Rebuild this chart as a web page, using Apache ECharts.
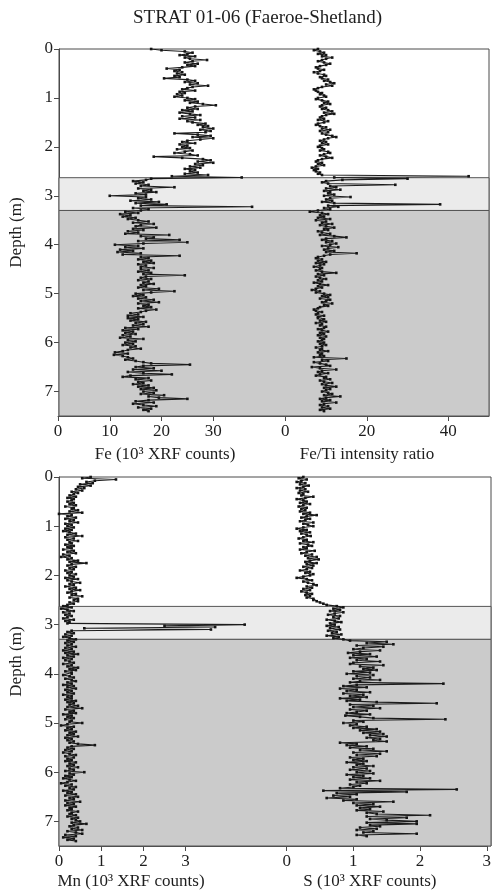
<!DOCTYPE html>
<html><head><meta charset="utf-8">
<script src="https://cdn.jsdelivr.net/npm/echarts@6.0.0/dist/echarts.min.js"></script>
<style>html,body{margin:0;padding:0;background:#fff}#c{width:494px;height:892px}</style>
</head><body><div id="c"></div>
<script>
// depth samples (m)
const depth = [
0,0.025,0.05,0.075,0.1,0.125,0.15,0.175,0.2,0.225,0.25,0.275,0.3,0.325,0.35,0.375,0.4,0.425,0.45,0.475,
0.5,0.525,0.55,0.575,0.6,0.625,0.65,0.675,0.7,0.725,0.75,0.775,0.8,0.825,0.85,0.875,0.9,0.925,0.95,0.975,
1,1.025,1.05,1.075,1.1,1.125,1.15,1.175,1.2,1.225,1.25,1.275,1.3,1.325,1.35,1.375,1.4,1.425,1.45,1.475,
1.5,1.525,1.55,1.575,1.6,1.625,1.65,1.675,1.7,1.725,1.75,1.775,1.8,1.825,1.85,1.875,1.9,1.925,1.95,1.975,
2,2.025,2.05,2.075,2.1,2.125,2.15,2.175,2.2,2.225,2.25,2.275,2.3,2.325,2.35,2.375,2.4,2.425,2.45,2.475,
2.5,2.525,2.55,2.575,2.6,2.625,2.65,2.675,2.7,2.725,2.75,2.775,2.8,2.825,2.85,2.875,2.9,2.925,2.95,2.975,
3,3.025,3.05,3.075,3.1,3.125,3.15,3.175,3.2,3.225,3.25,3.275,3.3,3.325,3.35,3.375,3.4,3.425,3.45,3.475,
3.5,3.525,3.55,3.575,3.6,3.625,3.65,3.675,3.7,3.725,3.75,3.775,3.8,3.825,3.85,3.875,3.9,3.925,3.95,3.975,
4,4.025,4.05,4.075,4.1,4.125,4.15,4.175,4.2,4.225,4.25,4.275,4.3,4.325,4.35,4.375,4.4,4.425,4.45,4.475,
4.5,4.525,4.55,4.575,4.6,4.625,4.65,4.675,4.7,4.725,4.75,4.775,4.8,4.825,4.85,4.875,4.9,4.925,4.95,4.975,
5,5.025,5.05,5.075,5.1,5.125,5.15,5.175,5.2,5.225,5.25,5.275,5.3,5.325,5.35,5.375,5.4,5.425,5.45,5.475,
5.5,5.525,5.55,5.575,5.6,5.625,5.65,5.675,5.7,5.725,5.75,5.775,5.8,5.825,5.85,5.875,5.9,5.925,5.95,5.975,
6,6.025,6.05,6.075,6.1,6.125,6.15,6.175,6.2,6.225,6.25,6.275,6.3,6.325,6.35,6.375,6.4,6.425,6.45,6.475,
6.5,6.525,6.55,6.575,6.6,6.625,6.65,6.675,6.7,6.725,6.75,6.775,6.8,6.825,6.85,6.875,6.9,6.925,6.95,6.975,
7,7.025,7.05,7.075,7.1,7.125,7.15,7.175,7.2,7.225,7.25,7.275,7.3,7.325,7.35,7.375,7.4];
// Fe (10^3 XRF counts)
const fe = [
18.0,20.0,24.5,26.0,25.0,23.5,26.5,24.5,25.5,28.8,26.0,24.5,27.0,25.0,26.5,24.0,21.0,23.5,22.5,24.0,
23.0,24.5,22.5,23.5,20.5,25.0,26.5,24.5,27.0,25.5,29.0,26.0,25.0,24.0,26.5,23.5,24.5,23.0,24.0,22.5,
25.0,26.5,24.5,27.0,25.5,28.0,30.5,26.5,25.0,27.0,24.0,26.0,23.5,25.5,27.5,24.0,26.5,23.5,27.5,25.0,
26.0,28.5,27.0,29.0,28.0,30.0,27.5,29.5,28.5,22.5,27.0,29.5,26.0,30.0,27.5,25.0,24.0,26.5,23.5,25.0,
24.0,25.5,23.0,26.0,24.5,22.5,25.5,27.0,18.5,24.0,28.0,29.5,27.0,30.0,26.5,28.0,25.5,27.5,24.5,26.5,
25.5,27.0,24.5,29.0,22.0,35.5,18.0,17.0,14.5,16.5,15.0,17.5,16.0,22.5,15.5,18.0,16.5,19.0,15.0,17.0,
10.0,17.0,15.5,18.0,14.0,19.5,15.0,21.0,16.0,37.5,14.5,17.5,16.0,13.0,15.5,12.0,14.0,12.5,15.0,13.5,
15.5,17.5,14.5,18.5,16.0,15.0,19.0,14.5,16.5,13.5,15.5,13.0,21.5,16.0,18.5,17.0,23.5,15.5,25.0,16.5,
11.0,15.5,13.0,16.5,12.0,14.5,11.5,16.0,12.5,23.5,16.0,17.5,15.5,18.0,16.5,18.5,15.5,17.0,16.0,18.5,
16.0,17.5,15.5,18.0,16.5,24.5,17.0,16.0,18.0,15.5,17.5,16.5,18.5,16.0,17.0,15.5,19.5,16.5,22.5,18.0,
15.0,16.5,14.5,17.0,15.5,18.5,16.0,19.5,15.5,17.5,16.5,18.0,15.5,19.0,17.0,16.0,14.0,15.5,13.5,16.5,
13.5,15.5,14.0,17.0,15.0,16.5,14.5,17.5,13.0,15.5,12.5,14.5,13.0,15.0,12.5,14.0,12.0,16.5,13.5,15.0,
13.0,14.5,12.5,15.0,14.0,16.0,13.5,12.5,11.0,13.5,10.8,12.5,13.5,14.5,13.0,15.0,16.5,18.0,25.5,16.5,
15.0,18.5,14.5,20.0,13.5,16.5,22.0,14.0,12.5,17.5,15.0,18.0,15.5,16.5,14.5,17.5,15.5,18.5,16.0,19.0,
16.5,18.5,16.0,20.5,17.5,19.5,25.0,17.5,15.0,18.5,14.5,16.5,19.0,15.5,18.0,16.5,17.5];
// Fe/Ti intensity ratio
const feTi = [
8.0,7.0,8.5,9.5,8.0,10.0,9.0,11.5,10.0,9.0,8.0,9.5,11.0,10.0,8.5,7.5,8.0,9.5,8.5,7.0,
8.0,9.5,10.0,8.5,9.0,10.5,9.5,11.0,12.0,10.0,11.5,9.0,8.0,7.0,7.5,8.0,9.0,8.5,9.5,10.0,
8.0,7.5,9.0,10.5,9.5,11.0,9.0,8.5,10.0,9.0,10.5,11.5,9.5,12.0,10.0,9.0,8.5,9.5,8.0,10.5,
9.5,8.0,7.5,8.5,10.0,9.0,11.0,8.5,10.5,9.0,10.0,11.5,12.5,10.5,9.5,8.5,10.0,9.0,10.5,8.5,
8.0,9.0,9.5,8.5,10.5,11.0,9.5,8.5,10.0,11.5,9.0,8.0,7.5,9.0,8.0,9.5,7.5,6.5,8.0,7.0,
7.5,8.5,8.0,9.0,45.0,12.0,30.0,14.0,10.0,9.0,10.5,27.0,11.0,12.5,10.0,13.5,9.5,11.0,10.5,12.0,
9.5,16.0,11.0,10.0,11.5,9.0,12.0,38.0,10.5,13.0,9.5,11.0,8.0,6.0,9.0,10.5,8.5,9.5,8.0,11.0,
7.5,10.0,9.0,11.5,8.5,10.0,12.0,9.5,10.5,8.0,9.0,11.0,8.5,12.0,15.0,10.0,9.0,11.5,10.0,12.5,
11.0,9.0,13.0,10.5,9.5,12.0,10.0,17.5,11.0,9.5,8.0,7.5,9.0,8.0,10.0,7.5,9.5,8.5,7.0,9.0,
8.5,7.5,9.0,12.5,8.0,9.5,7.5,8.5,10.0,8.0,9.0,7.0,8.5,10.5,8.0,9.0,7.5,6.5,8.5,7.5,
9.5,11.0,9.0,10.5,8.5,11.0,10.0,9.0,11.5,9.5,10.5,8.5,8.0,7.0,7.5,9.0,8.0,7.5,9.5,8.0,
8.0,9.5,8.5,10.0,7.5,9.0,8.5,10.0,9.5,8.0,9.0,10.5,8.5,9.5,8.0,10.0,8.5,9.5,9.0,8.0,
9.5,8.5,10.0,9.0,7.5,9.0,8.5,10.5,8.0,9.0,8.5,9.5,7.0,15.0,9.0,10.5,7.0,8.5,10.0,11.0,
6.5,8.5,12.5,9.0,8.0,10.5,8.5,7.5,10.0,9.5,11.0,8.5,9.5,11.5,9.0,10.0,12.5,9.5,11.0,10.0,
9.0,10.5,11.5,9.5,13.5,10.0,8.5,11.0,9.0,12.5,9.5,8.5,10.5,9.0,11.0,8.5,9.5];
// Mn (10^3 XRF counts)
const mn = [
0.75,0.55,1.35,0.85,0.65,0.80,0.50,0.75,0.45,0.60,0.40,0.55,0.30,0.45,0.35,0.25,0.40,0.20,0.35,0.30,
0.20,0.35,0.25,0.40,0.15,0.35,0.30,0.45,0.25,0.55,0.00,0.30,0.20,0.40,0.15,0.35,0.25,0.45,0.15,0.30,
0.20,0.35,0.15,0.30,0.10,0.25,0.40,0.20,0.55,0.15,0.35,0.20,0.45,0.25,0.30,0.15,0.35,0.20,0.30,0.10,
0.35,0.20,0.40,0.10,0.25,0.05,0.30,0.20,0.45,0.25,0.65,0.30,0.20,0.40,0.25,0.35,0.15,0.30,0.20,0.40,
0.25,0.35,0.15,0.45,0.20,0.30,0.50,0.25,0.35,0.15,0.40,0.25,0.50,0.30,0.20,0.40,0.30,0.55,0.25,0.45,
0.35,0.45,0.25,0.35,0.20,0.10,0.30,0.05,0.20,0.35,0.10,0.25,0.15,0.30,0.20,0.10,0.35,0.15,0.25,0.20,
4.40,2.50,3.70,0.60,3.60,0.30,0.20,0.35,0.15,0.30,0.10,0.25,0.40,0.20,0.35,0.15,0.30,0.20,0.40,0.15,
0.30,0.10,0.35,0.15,0.45,0.20,0.35,0.10,0.30,0.15,0.25,0.35,0.10,0.30,0.20,0.45,0.25,0.40,0.15,0.30,
0.30,0.10,0.25,0.35,0.15,0.30,0.40,0.20,0.30,0.10,0.35,0.20,0.40,0.15,0.30,0.20,0.35,0.10,0.30,0.20,
0.30,0.15,0.40,0.20,0.35,0.25,0.45,0.20,0.55,0.15,0.35,0.25,0.40,0.10,0.30,0.20,0.35,0.15,0.30,0.25,
0.55,0.20,0.05,0.35,0.20,0.30,0.15,0.40,0.25,0.35,0.20,0.45,0.15,0.30,0.20,0.35,0.25,0.45,0.85,0.30,
0.20,0.35,0.15,0.30,0.10,0.25,0.40,0.15,0.35,0.20,0.30,0.15,0.40,0.25,0.35,0.20,0.45,0.25,0.35,0.15,
0.60,0.25,0.35,0.15,0.30,0.10,0.25,0.40,0.20,0.05,0.30,0.15,0.40,0.25,0.35,0.10,0.30,0.20,0.40,0.15,
0.45,0.25,0.35,0.15,0.50,0.20,0.35,0.15,0.40,0.25,0.30,0.20,0.45,0.30,0.25,0.40,0.20,0.45,0.30,0.40,
0.50,0.30,0.65,0.35,0.25,0.45,0.30,0.55,0.20,0.40,0.55,0.15,0.40,0.10,0.35,0.20,0.40];
// S (10^3 XRF counts)
const sVal = [
0.25,0.18,0.30,0.22,0.15,0.28,0.20,0.33,0.25,0.15,0.28,0.20,0.32,0.18,0.25,0.22,0.40,0.28,0.15,0.25,
0.30,0.20,0.35,0.25,0.18,0.30,0.22,0.28,0.20,0.35,0.25,0.45,0.30,0.22,0.35,0.28,0.20,0.40,0.25,0.32,
0.40,0.25,0.15,0.30,0.20,0.35,0.22,0.30,0.36,0.25,0.18,0.30,0.25,0.40,0.20,0.32,0.38,0.25,0.30,0.20,
0.42,0.30,0.22,0.38,0.28,0.45,0.32,0.48,0.35,0.28,0.45,0.30,0.40,0.25,0.38,0.30,0.20,0.35,0.28,0.40,
0.35,0.25,0.15,0.30,0.38,0.25,0.32,0.40,0.45,0.30,0.38,0.25,0.35,0.22,0.30,0.38,0.28,0.35,0.30,0.40,
0.40,0.45,0.50,0.55,0.60,0.75,0.85,0.70,0.80,0.65,0.85,0.72,0.62,0.80,0.70,0.78,0.60,0.72,0.82,0.65,
0.72,0.60,0.78,0.65,0.80,0.62,0.75,0.68,0.82,0.60,0.78,0.70,0.85,0.95,1.50,1.20,1.60,1.05,1.45,1.15,
1.00,1.40,1.10,0.92,1.25,1.00,1.35,0.95,1.20,1.05,1.40,1.00,0.95,1.45,1.10,1.30,1.15,1.35,1.00,1.25,
0.90,1.30,1.05,1.25,1.00,1.40,1.10,0.95,2.35,1.05,0.85,1.20,0.80,1.05,0.90,1.25,0.85,1.15,0.95,1.20,
0.80,1.10,0.90,1.35,2.25,0.95,1.30,1.00,1.40,0.95,1.20,1.05,0.90,1.25,0.88,1.10,1.30,2.38,1.00,1.15,
0.85,1.05,0.95,1.20,1.00,1.35,1.10,1.40,1.15,1.45,1.25,1.50,1.20,1.40,1.30,1.50,0.80,1.05,0.90,1.20,
0.95,1.30,1.10,1.50,1.00,1.40,1.05,1.35,0.95,1.15,1.00,1.20,0.90,1.15,1.05,1.30,1.00,1.20,0.95,1.25,
1.05,1.30,0.90,1.15,1.00,1.25,0.95,1.40,1.05,1.20,0.95,1.10,1.00,0.80,2.55,0.55,1.80,0.75,1.05,0.70,
0.95,0.60,1.05,0.85,1.60,1.00,1.30,1.05,1.40,1.10,1.25,1.05,1.45,1.20,1.35,2.15,1.20,1.80,1.25,1.50,
1.95,1.20,1.95,1.25,1.40,1.10,1.35,1.05,1.30,1.15,1.95,1.05,1.20,null,null,null,null];

const depthTicks = [0,1,2,3,4,5,6,7];
const feTicks = [0,10,20,30];
const feTiTicks = [0,20,40];
const mnTicks = [0,1,2,3];
const sTicks = [0,1,2,3];
// lithological bands: [top, bottom]
const bandLight = [2.63, 3.3];
const bandDark = [3.3, 7.5];

const FONT = 'Liberation Serif';
const TXT = '#1e1e1e';
const AX = '#4a4a4a';

const grids = [
  {left:57, top:49, width:432, height:367},   // 0 top frame
  {left:58, top:49, width:207, height:367},   // 1 Fe
  {left:265, top:49, width:224, height:367},  // 2 Fe/Ti
  {left:58, top:477, width:433, height:369},  // 3 bottom frame
  {left:59, top:477, width:211, height:369},  // 4 Mn
  {left:270, top:477, width:223, height:369}  // 5 S
].map((g,i)=>Object.assign({show: i===0||i===3, borderColor:AX, borderWidth:1, backgroundColor:'transparent', containLabel:false}, g));

function frameY(idx){
  return {gridIndex:idx, type:'value', min:0, max:7.5, inverse:true,
    axisLine:{show:true, lineStyle:{color:AX}},
    axisTick:{show:true, length:5, inside:false, customValues:depthTicks, lineStyle:{color:AX}},
    axisLabel:{customValues:depthTicks, fontFamily:FONT, fontSize:17, color:TXT, margin:6},
    splitLine:{show:false},
    name:'Depth (m)', nameLocation:'middle', nameGap:34, nameRotate:90,
    nameTextStyle:{fontFamily:FONT, fontSize:17, color:TXT}};
}
function hiddenY(idx){
  return {gridIndex:idx, type:'value', min:0, max:7.5, inverse:true, show:false, splitLine:{show:false}};
}
function dataX(idx, min, max, ticks, name, pad, gap){
  return {gridIndex:idx, type:'value', min:min, max:max,
    axisLine:{show:true, onZero:false, lineStyle:{color:AX}},
    axisTick:{show:true, length:5, customValues:ticks, lineStyle:{color:AX}},
    axisLabel:{customValues:ticks, fontFamily:FONT, fontSize:17, color:TXT, margin:7},
    splitLine:{show:false},
    name:name, nameLocation:'middle', nameGap:gap,
    nameTextStyle:{fontFamily:FONT, fontSize:17, color:TXT, padding:pad}};
}
function frameX(idx){
  return {gridIndex:idx, type:'value', min:0, max:1, show:false, splitLine:{show:false}};
}
function bandSeries(idx){
  return {type:'line', xAxisIndex:idx, yAxisIndex:idx, data:[], z:1, silent:true,
    markArea:{silent:true, data:[
      [{yAxis:bandLight[0], itemStyle:{color:'#ebebeb', borderColor:'#555', borderWidth:1}},{yAxis:bandLight[1]}],
      [{yAxis:bandDark[0], itemStyle:{color:'#cbcbcb', borderColor:'#555', borderWidth:1}},{yAxis:bandDark[1]}]
    ]}};
}
function trace(idx, vals){
  return {type:'line', xAxisIndex:idx, yAxisIndex:idx, z:5,
    data: vals.map((v,i)=> v===null ? [null, depth[i]] : [v, depth[i]]),
    symbol:'rect', symbolSize:2.6, showSymbol:true, showAllSymbol:true, connectNulls:false,
    lineStyle:{color:'#1c1c1c', width:1.1}, itemStyle:{color:'#141414'}};
}

const chart = echarts.init(document.getElementById('c'), null, {renderer:'canvas'});
chart.setOption({
  animation:false,
  backgroundColor:'#ffffff',
  title:{text:'STRAT 01-06 (Faeroe-Shetland)', left:128, top:4,
    textStyle:{fontFamily:FONT, fontSize:19, fontWeight:'normal', color:TXT}},
  grid: grids,
  xAxis:[
    frameX(0),
    dataX(1, 0, 40, feTicks, 'Fe (10³ XRF counts)', [0,0,0,7], 30),
    dataX(2, -5, 50, feTiTicks, 'Fe/Ti intensity ratio', [0,20,0,0], 30),
    frameX(3),
    dataX(4, 0, 5, mnTicks, 'Mn (10³ XRF counts)', [0,67,0,0], 27),
    dataX(5, -0.25, 3, sTicks, 'S (10³ XRF counts)', [0,17,0,0], 27)
  ],
  yAxis:[frameY(0), hiddenY(1), hiddenY(2), frameY(3), hiddenY(4), hiddenY(5)],
  series:[
    bandSeries(0), bandSeries(3),
    trace(1, fe), trace(2, feTi), trace(4, mn), trace(5, sVal)
  ]
});
</script></body></html>
